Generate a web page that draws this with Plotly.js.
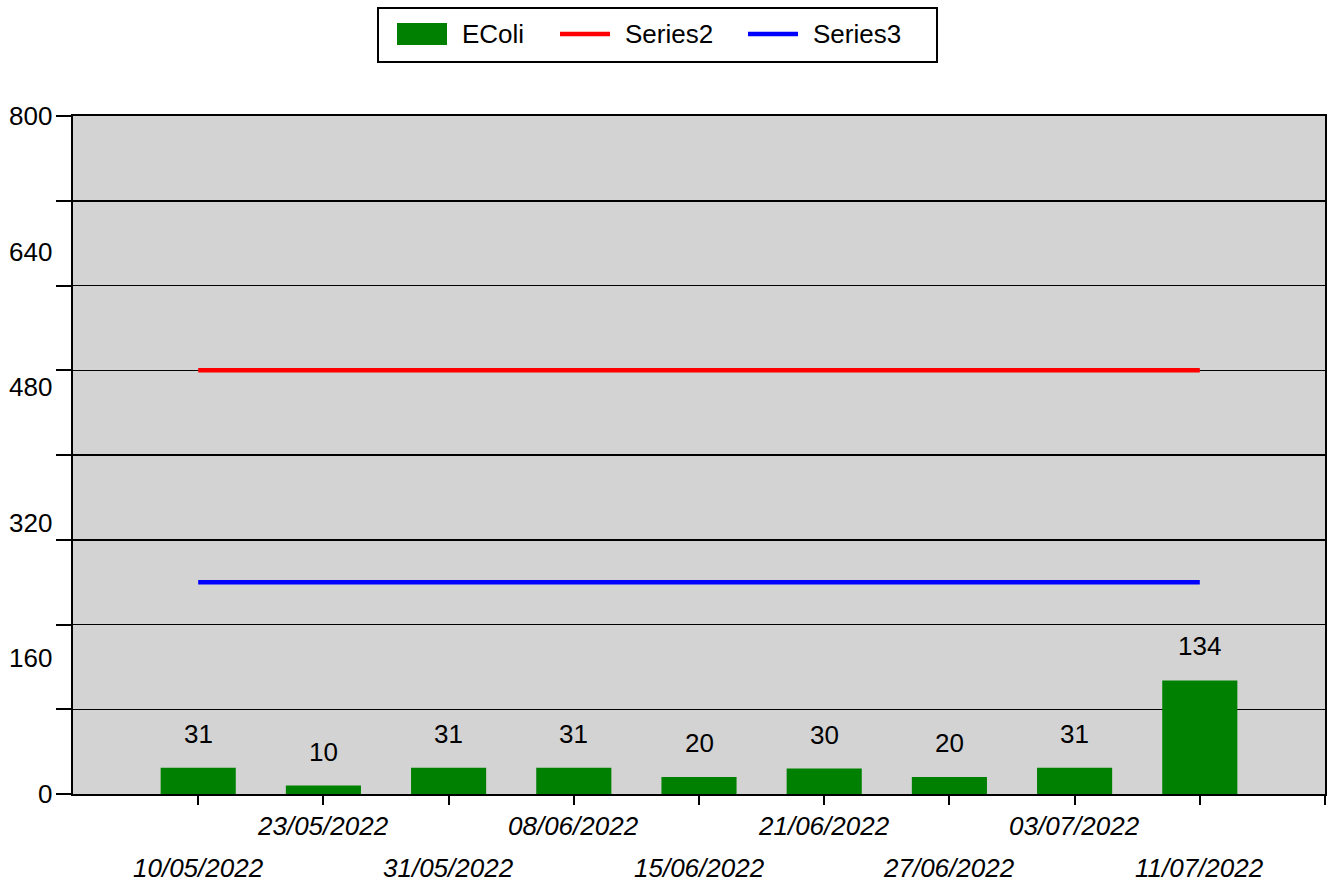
<!DOCTYPE html>
<html>
<head>
<meta charset="utf-8">
<script src="https://cdn.plot.ly/plotly-3.0.1.min.js"></script>
<style>html,body{margin:0;padding:0;background:#fff;}#chart{width:1333px;height:886px;}</style>
</head>
<body>
<div id="chart"></div>
<script>
const dates = ["10/05/2022","23/05/2022","31/05/2022","08/06/2022","15/06/2022","21/06/2022","27/06/2022","03/07/2022","11/07/2022"];
const ecoli = [31, 10, 31, 31, 20, 30, 20, 31, 134];
const series2 = [500, 500, 500, 500, 500, 500, 500, 500, 500];
const series3 = [250, 250, 250, 250, 250, 250, 250, 250, 250];
const yLabels = [0, 160, 320, 480, 640, 800];
const yGrid = [0, 100, 200, 300, 400, 500, 600, 700, 800];
const seriesNames = ["EColi", "Series2", "Series3"];
const seriesColors = ["#008000", "#ff0000", "#0000ff"];

const idx = dates.map((d, i) => i);
const FONT = "Liberation Sans, Arial, sans-serif";
const FS = 26;

// layout geometry (pixels)
const W = 1333, H = 886, ML = 73, MR = 8, MT = 116, MB = 92;
const PW = W - ML - MR, PH = H - MT - MB;
const px = v => (v - ML) / PW;          // page px -> paper x
const py = v => (H - MB - v) / PH;      // page py -> paper y

const traces = [
  {type: "bar", name: seriesNames[0], x: idx, y: ecoli, marker: {color: seriesColors[0]}, width: 0.6, showlegend: false},
  {type: "scatter", mode: "lines", name: seriesNames[1], x: idx, y: series2, line: {color: seriesColors[1], width: 4.5}, showlegend: false},
  {type: "scatter", mode: "lines", name: seriesNames[2], x: idx, y: series3, line: {color: seriesColors[2], width: 4.5}, showlegend: false}
];

const annotations = [];
const shapes = [];
dates.forEach((d, i) => {
  annotations.push({
    xref: "x", yref: "paper", x: i, y: 0, yanchor: "middle", xanchor: "center",
    yshift: (i % 2 === 0) ? -74 : -32, showarrow: false,
    text: "<i>" + d + "</i>", font: {family: FONT, size: FS, color: "#000"}
  });
  annotations.push({
    xref: "x", yref: "y", x: i, y: ecoli[i], yanchor: "bottom", xanchor: "center",
    yshift: 17, showarrow: false, text: String(ecoli[i]),
    font: {family: FONT, size: FS, color: "#000"}
  });
});
yLabels.forEach(v => {
  annotations.push({
    xref: "paper", yref: "y", x: 0, y: v, xanchor: "right", yanchor: "middle",
    xshift: -19, showarrow: false, text: String(v),
    font: {family: FONT, size: FS, color: "#000"}
  });
});

// legend box (drawn manually to match swatch sizes)
shapes.push({type: "rect", xref: "paper", yref: "paper", x0: px(378), x1: px(937), y0: py(62), y1: py(8),
  line: {color: "#000", width: 2}, fillcolor: "#fff", layer: "above"});
const legStarts = [397, 560, 748];
const legY = 34;
legStarts.forEach((s, k) => {
  if (k === 0) {
    shapes.push({type: "rect", xref: "paper", yref: "paper", x0: px(s), x1: px(s + 50), y0: py(45), y1: py(23),
      line: {width: 0}, fillcolor: seriesColors[k], layer: "above"});
  } else {
    shapes.push({type: "line", xref: "paper", yref: "paper", x0: px(s), x1: px(s + 50), y0: py(legY), y1: py(legY),
      line: {color: seriesColors[k], width: 4.5}, layer: "above"});
  }
  annotations.push({xref: "paper", yref: "paper", x: px(s + 63), y: py(legY), xanchor: "left", yanchor: "middle",
    showarrow: false, text: seriesNames[k], font: {family: FONT, size: FS, color: "#000"}});
});

const layout = {
  width: W, height: H,
  margin: {l: ML, r: MR, t: MT, b: MB},
  paper_bgcolor: "#ffffff",
  plot_bgcolor: "#d3d3d3",
  font: {family: FONT, size: FS, color: "#000"},
  showlegend: false,
  xaxis: {
    range: [-1, 9], tickmode: "array", tickvals: idx.concat([9]),
    showticklabels: false, ticks: "outside", ticklen: 9, tickwidth: 2, tickcolor: "#000",
    showgrid: false, zeroline: false, showline: true, linecolor: "#000", linewidth: 2, mirror: true
  },
  yaxis: {
    range: [0, 800], tickmode: "array", tickvals: yGrid, showticklabels: false,
    ticks: "outside", ticklen: 15, tickwidth: 2, tickcolor: "#000",
    showgrid: true, gridcolor: "#000", gridwidth: 1.5, zeroline: false,
    showline: true, linecolor: "#000", linewidth: 2, mirror: true
  },
  annotations: annotations,
  shapes: shapes
};

Plotly.newPlot("chart", traces, layout, {displayModeBar: false, staticPlot: true});
</script>
</body>
</html>
